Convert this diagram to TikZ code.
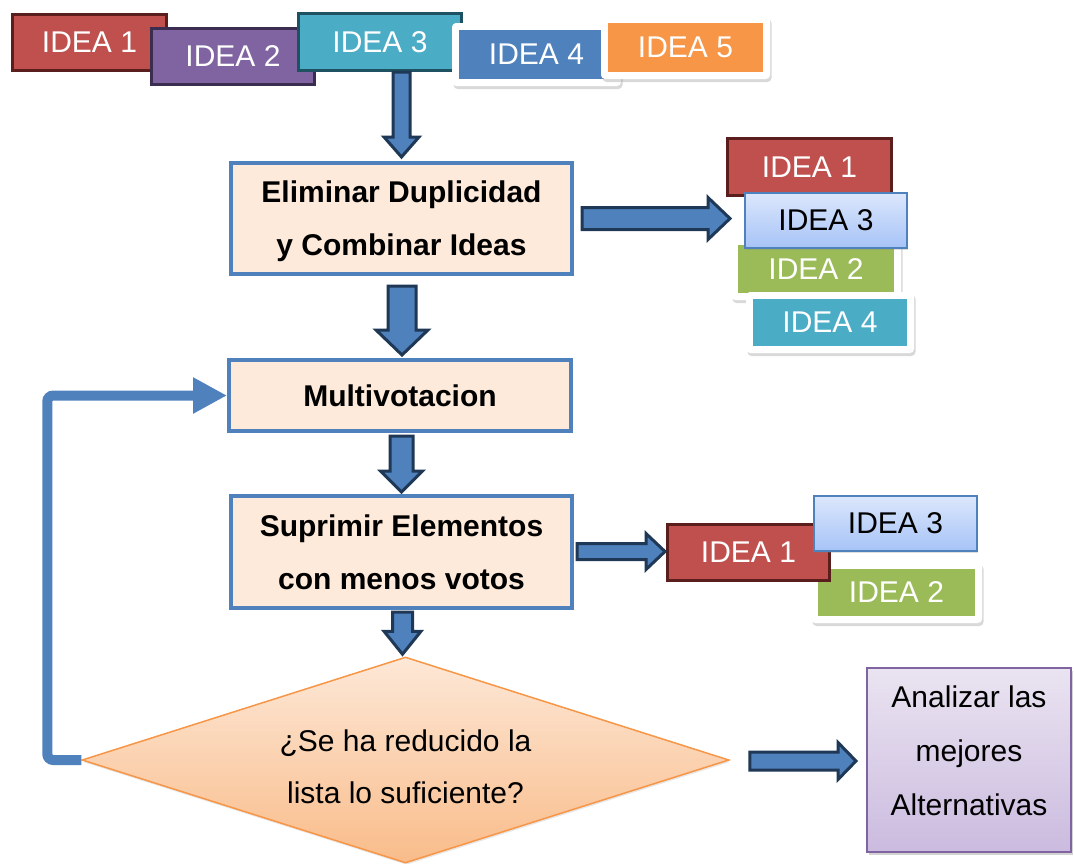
\documentclass[tikz,border=0pt]{standalone}
\usepackage{fontspec}
\setmainfont{Liberation Sans}
\usetikzlibrary{calc,shapes.geometric,shadows,arrows.meta}

\definecolor{ired}{HTML}{C0504D}
\definecolor{iredb}{HTML}{5A1F1D}
\definecolor{ipurple}{HTML}{8064A2}
\definecolor{ipurpleb}{HTML}{3B2D50}
\definecolor{iteal}{HTML}{4BACC6}
\definecolor{itealb}{HTML}{1E5262}
\definecolor{iblue}{HTML}{4F81BD}
\definecolor{iorange}{HTML}{F79646}
\definecolor{igreen}{HTML}{9BBB59}
\definecolor{anavy}{HTML}{1F3856}
\definecolor{procfill}{HTML}{FDEADA}
\definecolor{ltop}{HTML}{DCE7FC}
\definecolor{lbot}{HTML}{A6C3F7}
\definecolor{dtop}{HTML}{FDE8D7}
\definecolor{dbot}{HTML}{F9BC8A}
\definecolor{ptop}{HTML}{EAE4F1}
\definecolor{pbot}{HTML}{CBBBDF}

\newcommand\ideafont{\fontsize{30pt}{36pt}\selectfont}

% block arrow pointing down: start, tip, half shaft, half head, head length
\newcommand\blkdown[5]{%
  \draw[blkarrow] let \p1=(#1), \p2=(#2) in
    (\x2-#3,\y1) -- (\x2-#3,\y2+#5) -- (\x2-#4,\y2+#5) -- (\x2,\y2)
    -- (\x2+#4,\y2+#5) -- (\x2+#3,\y2+#5) -- (\x2+#3,\y1) -- cycle;}
% block arrow pointing right: start, tip, half shaft, half head, head length
\newcommand\blkright[5]{%
  \draw[blkarrow] let \p1=(#1), \p2=(#2) in
    (\x1,\y2+#3) -- (\x2-#5,\y2+#3) -- (\x2-#5,\y2+#4) -- (\x2,\y2)
    -- (\x2-#5,\y2-#4) -- (\x2-#5,\y2-#3) -- (\x1,\y2-#3) -- cycle;}

\tikzset{
  idea/.style={rectangle, inner sep=0pt, text=white, font=\ideafont},
  solididea/.style 2 args={idea, fill=#1, draw=#2, line width=3pt,
    minimum width=163pt, minimum height=56pt},
  lightidea/.style={idea, text=black, top color=ltop, bottom color=lbot,
    draw=iblue, line width=2pt, minimum width=163pt, minimum height=55pt,
    drop shadow={shadow xshift=1pt, shadow yshift=-2pt, opacity=0.25}},
  framedidea/.style={idea, fill=white, rounded corners=4pt,
    drop shadow={shadow xshift=1.5pt, shadow yshift=-3pt, opacity=0.3},
    path picture={\fill[#1, sharp corners]
      ([shift={(7pt,7pt)}]path picture bounding box.south west) rectangle
      ([shift={(-7pt,-7pt)}]path picture bounding box.north east);}},
  procbox/.style={rectangle, inner sep=0pt, fill=procfill, draw=iblue,
    line width=4pt, align=center, minimum width=341pt,
    font=\fontsize{30pt}{53pt}\selectfont\bfseries},
  blkarrow/.style={fill=iblue, draw=anavy, line width=3pt, line join=miter},
  loopline/.style={draw=iblue, line width=10pt, rounded corners=6pt,
    -{Triangle[length=34pt,width=34pt]}},
}

\begin{document}
\begin{tikzpicture}[x=1pt,y=-1pt]
\useasboundingbox (0,0) rectangle (1074,863);

% ---- incoming ideas ----
\node[solididea={ired}{iredb}, minimum width=154pt] (t1) at (89.5,42.5) {IDEA 1};
\node[solididea={ipurple}{ipurpleb}] (t2) at (233,56.5) {IDEA 2};
\node[solididea={iteal}{itealb}, minimum height=57pt] (t3) at (380,42) {IDEA 3};
\node[framedidea=iblue, minimum width=169pt, minimum height=63pt] (t4) at (536.5,54.5) {IDEA 4};
\node[framedidea=iorange, minimum width=169pt, minimum height=63pt] (t5) at (685.5,47.5) {IDEA 5};

% ---- process steps ----
\node[procbox, minimum height=111pt, text depth=0pt] (b1) at (401.5,218.5)
  {Eliminar Duplicidad\\y Combinar Ideas};
\node[procbox, minimum width=342pt, minimum height=71pt] (m) at (400,395.5) {Multivotacion};
\node[procbox, minimum height=112pt] (b3) at (401.5,552)
  {Suprimir Elementos\\con menos votos};

% ---- decision ----
\node[diamond, inner sep=0pt, aspect=3, minimum width=647pt, minimum height=206pt,
  top color=dtop, bottom color=dbot, draw=iorange, line width=1.5pt,
  drop shadow={shadow xshift=1pt, shadow yshift=-2pt, opacity=0.2}] (d) at (405.5,760) {};
\node[align=center, inner sep=0pt, font=\fontsize{30pt}{52pt}\selectfont] (dq) at (405.5,767)
  {¿Se ha reducido la\\lista lo suficiente?};

% ---- result ----
\node[rectangle, inner sep=0pt, minimum width=204pt, minimum height=184pt,
  top color=ptop, bottom color=pbot, draw=ipurple, line width=2pt, align=center,
  text depth=18pt, font=\fontsize{30pt}{54pt}\selectfont,
  drop shadow={shadow xshift=2pt, shadow yshift=-3pt, opacity=0.35}] (p) at (969,760)
  {Analizar las\\mejores\\Alternativas};

% ---- ideas after merging ----
\node[solididea={ired}{iredb}, minimum width=164pt, minimum height=57pt] (r1) at (809.5,167) {IDEA 1};
\node[framedidea=igreen, minimum width=170pt, minimum height=62pt] (r2) at (816,269) {IDEA 2};
\node[lightidea, minimum width=162pt] (r3) at (826,220.5) {IDEA 3};
\node[framedidea=iteal, minimum width=168pt, minimum height=61pt] (r4) at (830,322.5) {IDEA 4};

% ---- ideas after removing ----
\node[framedidea=igreen, minimum width=171pt, minimum height=61pt] (s2) at (896.5,592.5) {IDEA 2};
\node[solididea={ired}{iredb}, minimum width=162pt] (s1) at (748.5,552.5) {IDEA 1};
\node[lightidea] (s3) at (895.5,523.5) {IDEA 3};

% ---- block arrows ----
\coordinate (a1s) at (b1.north |- t3.south);
\coordinate (a1e) at ($(b1.north)+(0,-4)$);
\blkdown{a1s}{a1e}{8.5pt}{17.5pt}{20pt}

\coordinate (a2s) at ($(b1.south)+(0,10)$);
\coordinate (a2e) at ($(m.north)+(2,-3)$);
\blkdown{a2s}{a2e}{14pt}{26pt}{25pt}

\coordinate (a3s) at ($(m.south)+(0,3)$);
\coordinate (a3e) at ($(b3.north)+(0,-2)$);
\blkdown{a3s}{a3e}{11.5pt}{21pt}{21pt}

\coordinate (a4s) at ($(b3.south)+(0,2)$);
\coordinate (a4e) at ($(d.north)+(-3,-2)$);
\blkdown{a4s}{a4e}{10pt}{18.5pt}{23pt}

\coordinate (r0s) at ($(b1.east)+(8,0)$);
\coordinate (r0e) at ($(r3.west)+(-14,-2)$);
\blkright{r0s}{r0e}{11pt}{21pt}{22pt}

\coordinate (s0s) at ($(b3.east |- s1.west)+(3,-1)$);
\coordinate (s0e) at ($(s1.west)+(-1,-1)$);
\blkright{s0s}{s0e}{8pt}{18pt}{19pt}

\coordinate (p0s) at ($(d.east)+(20,1)$);
\coordinate (p0e) at ($(p.west)+(-10,1)$);
\blkright{p0s}{p0e}{9pt}{18.5pt}{18pt}

% ---- loop back to voting ----
\draw[loopline] (d.west) -- ++(-34,0) |- (m.west);
\end{tikzpicture}
\end{document}
